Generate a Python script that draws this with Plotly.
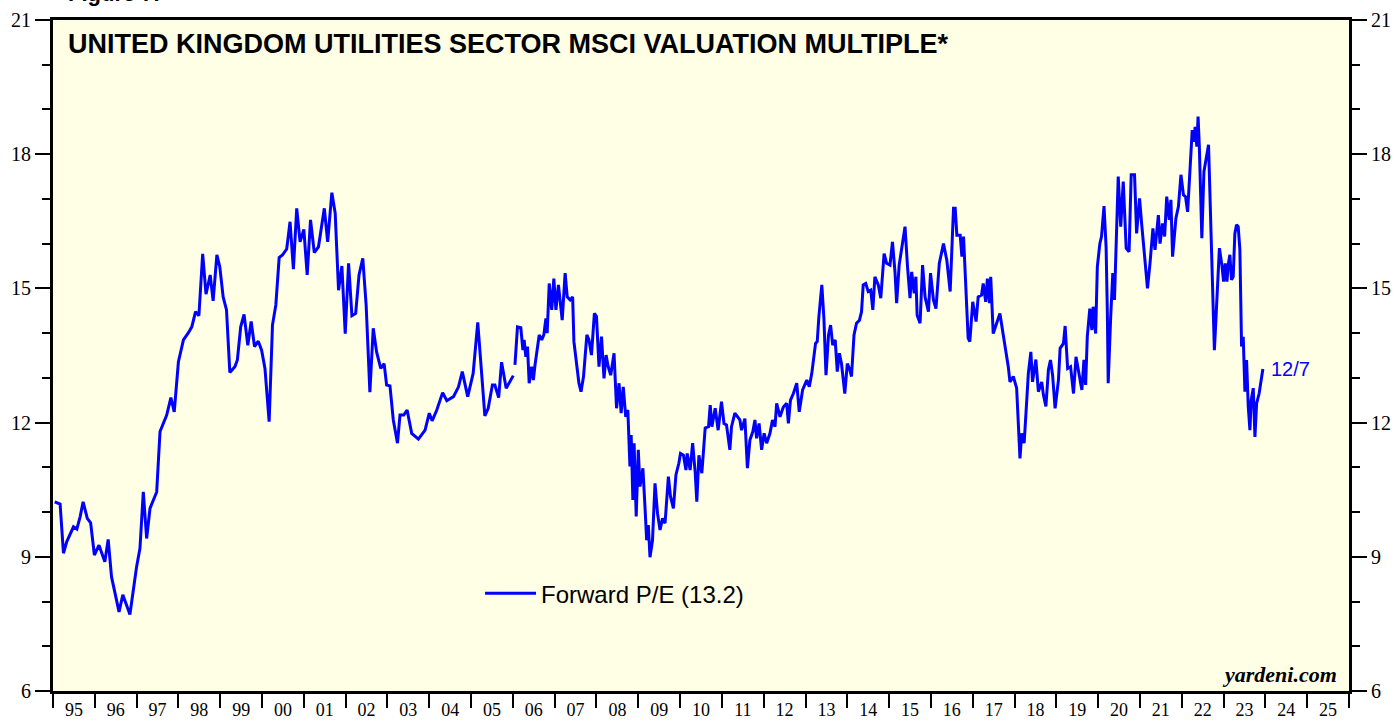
import plotly.graph_objects as go

# ---- data (decimal years, forward P/E) ----
# monthly part 1995-2005
monthly_years = [
    1995.04, 1995.17, 1995.25, 1995.33, 1995.49, 1995.57, 1995.65, 1995.72, 1995.82, 1995.90,
    1995.99, 1996.10, 1996.24, 1996.32, 1996.40, 1996.58, 1996.67, 1996.84, 1997.00, 1997.08,
    1997.16, 1997.24, 1997.32, 1997.48, 1997.56, 1997.72, 1997.82, 1997.90, 1998.00, 1998.12,
    1998.24, 1998.32, 1998.41, 1998.49, 1998.58, 1998.66, 1998.76, 1998.83, 1998.92, 1998.99,
    1999.07, 1999.15, 1999.23, 1999.35, 1999.41, 1999.49, 1999.57, 1999.66, 1999.74, 1999.82,
    1999.91, 1999.99, 2000.07, 2000.17, 2000.25, 2000.33, 2000.41, 2000.49, 2000.59, 2000.67,
    2000.75, 2000.83, 2000.91, 2001.00, 2001.08, 2001.16, 2001.25, 2001.35, 2001.49, 2001.57,
    2001.67, 2001.75, 2001.83, 2001.91, 2001.99, 2002.07, 2002.15, 2002.24, 2002.32, 2002.41,
    2002.49, 2002.58, 2002.66, 2002.74, 2002.84, 2002.92, 2002.98, 2003.06, 2003.14, 2003.24,
    2003.30, 2003.39, 2003.47, 2003.58, 2003.74, 2003.90, 2004.00, 2004.07, 2004.18, 2004.32,
    2004.42, 2004.58, 2004.70, 2004.79, 2004.92, 2005.05, 2005.16, 2005.33, 2005.41, 2005.51,
    2005.57, 2005.66, 2005.73, 2005.84, 2006.01,
]
monthly_pe = [
    10.23, 10.18, 9.08, 9.34, 9.67, 9.62, 9.90, 10.23, 9.86, 9.76,
    9.04, 9.26, 8.89, 9.39, 8.55, 7.77, 8.15, 7.71, 8.78, 9.19,
    10.45, 9.41, 10.08, 10.45, 11.80, 12.17, 12.56, 12.24, 13.36, 13.85,
    14.01, 14.14, 14.48, 14.39, 15.77, 14.87, 15.30, 14.72, 15.75, 15.48,
    14.81, 14.52, 13.12, 13.25, 13.40, 14.14, 14.42, 13.73, 14.26, 13.70,
    13.82, 13.62, 13.21, 12.02, 14.18, 14.63, 15.69, 15.75, 15.88, 16.49,
    15.43, 16.79, 16.04, 16.32, 15.30, 16.53, 15.80, 15.93, 16.79, 16.04,
    17.14, 16.68, 14.96, 15.50, 13.99, 15.56, 14.39, 14.44, 15.30, 15.67,
    14.63, 12.68, 14.11, 13.58, 13.21, 13.32, 12.84, 12.82, 12.06, 11.54,
    12.17, 12.17, 12.28, 11.76, 11.63, 11.83, 12.21, 12.04, 12.28, 12.67,
    12.49, 12.58, 12.80, 13.14, 12.58, 13.10, 14.24, 12.15, 12.32, 12.84,
    12.84, 12.56, 13.35, 12.77, 13.05,
]

# weekly part 2006-2023
weekly_years = [
    2006.05, 2006.11, 2006.19, 2006.24, 2006.27, 2006.31, 2006.35, 2006.39, 2006.45, 2006.49,
    2006.53, 2006.58, 2006.63, 2006.69, 2006.74, 2006.79, 2006.82, 2006.87, 2006.93, 2006.98,
    2007.03, 2007.09, 2007.13, 2007.18, 2007.25, 2007.30, 2007.37, 2007.43, 2007.46, 2007.53,
    2007.58, 2007.63, 2007.69, 2007.77, 2007.82, 2007.88, 2007.95, 2008.00, 2008.06, 2008.12,
    2008.18, 2008.23, 2008.28, 2008.34, 2008.42, 2008.48, 2008.54, 2008.59, 2008.64, 2008.70,
    2008.75, 2008.80, 2008.83, 2008.87, 2008.90, 2008.95, 2009.00, 2009.04, 2009.11, 2009.16,
    2009.20, 2009.24, 2009.28, 2009.34, 2009.40, 2009.46, 2009.52, 2009.58, 2009.64, 2009.72,
    2009.77, 2009.84, 2009.90, 2009.97, 2010.01, 2010.08, 2010.14, 2010.17, 2010.24, 2010.30,
    2010.36, 2010.40, 2010.45, 2010.52, 2010.60, 2010.68, 2010.72, 2010.76, 2010.84, 2010.91,
    2010.99, 2011.05, 2011.11, 2011.19, 2011.23, 2011.31, 2011.37, 2011.43, 2011.47, 2011.55,
    2011.61, 2011.67, 2011.74, 2011.79, 2011.83, 2011.89, 2011.95, 2012.01, 2012.07, 2012.15,
    2012.21, 2012.27, 2012.31, 2012.39, 2012.47, 2012.55, 2012.59, 2012.64, 2012.71, 2012.79,
    2012.85, 2012.93, 2013.03, 2013.09, 2013.15, 2013.19, 2013.24, 2013.28, 2013.32, 2013.39,
    2013.44, 2013.49, 2013.55, 2013.60, 2013.65, 2013.71, 2013.76, 2013.81, 2013.86, 2013.94,
    2014.00, 2014.06, 2014.10, 2014.16, 2014.22, 2014.29, 2014.34, 2014.38, 2014.44, 2014.50,
    2014.56, 2014.61, 2014.66, 2014.74, 2014.80, 2014.88, 2014.94, 2015.02, 2015.08, 2015.14,
    2015.18, 2015.24, 2015.32, 2015.38, 2015.44, 2015.50, 2015.54, 2015.60, 2015.64, 2015.67,
    2015.74, 2015.80, 2015.86, 2015.94, 2015.99, 2016.06, 2016.12, 2016.20, 2016.30, 2016.38,
    2016.46, 2016.54, 2016.58, 2016.62, 2016.70, 2016.74, 2016.78, 2016.82, 2016.89, 2016.93,
    2017.00, 2017.08, 2017.13, 2017.21, 2017.25, 2017.31, 2017.35, 2017.40, 2017.43, 2017.49,
    2017.57, 2017.65, 2017.73, 2017.81, 2017.85, 2017.89, 2017.97, 2018.05, 2018.09, 2018.13,
    2018.17, 2018.23, 2018.29, 2018.33, 2018.39, 2018.43, 2018.51, 2018.57, 2018.65, 2018.69,
    2018.75, 2018.81, 2018.86, 2018.91, 2018.97, 2019.05, 2019.09, 2019.17, 2019.21, 2019.27,
    2019.34, 2019.41, 2019.47, 2019.53, 2019.61, 2019.66, 2019.70, 2019.74, 2019.80, 2019.85,
    2019.88, 2019.94, 2019.98, 2020.04, 2020.08, 2020.14, 2020.19, 2020.22, 2020.24, 2020.30,
    2020.35, 2020.39, 2020.43, 2020.48, 2020.54, 2020.60, 2020.67, 2020.74, 2020.79, 2020.87,
    2020.92, 2020.99, 2021.04, 2021.11, 2021.18, 2021.24, 2021.31, 2021.36, 2021.44, 2021.48,
    2021.54, 2021.59, 2021.64, 2021.70, 2021.74, 2021.78, 2021.86, 2021.92, 2021.98, 2022.04,
    2022.09, 2022.14, 2022.20, 2022.25, 2022.29, 2022.32, 2022.36, 2022.39, 2022.42, 2022.48,
    2022.53, 2022.60, 2022.64, 2022.68, 2022.72, 2022.76, 2022.78, 2022.82, 2022.85, 2022.90,
    2022.96, 2023.00, 2023.04, 2023.08, 2023.11, 2023.15, 2023.19, 2023.23, 2023.27, 2023.31,
    2023.35, 2023.39, 2023.43, 2023.47, 2023.51, 2023.55, 2023.59, 2023.63, 2023.66, 2023.71,
    2023.75, 2023.79, 2023.85, 2023.89, 2023.94,
]
weekly_pe = [
    13.29, 14.14, 14.12, 13.62, 13.85, 13.47, 13.70, 12.88, 13.25, 12.95,
    13.29, 13.58, 13.96, 13.85, 13.96, 14.33, 14.00, 15.11, 14.52, 15.22,
    14.52, 15.08, 14.74, 14.29, 15.34, 14.81, 14.74, 14.81, 13.81, 13.32,
    12.88, 12.69, 13.03, 13.96, 13.85, 13.51, 14.44, 14.37, 13.25, 13.92,
    12.99, 13.51, 13.25, 13.06, 13.55, 12.32, 12.88, 12.21, 12.80, 12.13,
    12.28, 11.02, 11.72, 10.27, 11.54, 9.90, 11.39, 10.57, 10.98, 10.12,
    9.37, 9.71, 8.99, 9.37, 10.64, 9.97, 9.60, 9.86, 9.75, 10.79,
    10.35, 10.08, 10.83, 11.09, 11.31, 11.27, 10.94, 11.31, 10.94, 11.54,
    10.90, 10.23, 11.27, 10.87, 11.88, 11.91, 12.39, 11.91, 12.32, 11.83,
    12.47, 11.98, 11.95, 11.39, 11.91, 12.21, 12.13, 12.06, 11.83, 12.09,
    10.98, 11.61, 11.80, 12.06, 11.65, 11.98, 11.39, 11.76, 11.54, 11.76,
    12.06, 11.91, 12.43, 12.13, 12.35, 12.43, 11.98, 12.50, 12.65, 12.88,
    12.24, 12.73, 12.95, 12.80, 13.10, 13.40, 13.77, 13.81, 14.37, 15.08,
    14.33, 13.06, 13.96, 14.18, 13.73, 13.85, 13.14, 13.55, 13.32, 12.65,
    13.32, 13.18, 13.03, 13.96, 14.22, 14.29, 14.48, 15.08, 15.11, 14.93,
    14.96, 14.52, 15.26, 15.08, 14.78, 15.78, 15.56, 15.52, 16.04, 15.37,
    14.67, 15.52, 16.08, 16.38, 15.48, 14.78, 15.37, 14.89, 15.26, 14.40,
    14.22, 15.52, 14.81, 14.48, 15.34, 14.74, 14.55, 15.56, 16.00, 15.63,
    14.93, 16.79, 16.79, 16.19, 16.19, 15.71, 16.16, 15.34, 13.89, 13.81,
    14.70, 14.26, 14.81, 14.85, 15.11, 14.70, 15.22, 14.67, 15.26, 13.99,
    14.22, 14.44, 13.96, 13.51, 13.25, 12.91, 13.03, 12.77, 11.76, 11.20,
    11.76, 11.54, 12.47, 13.10, 13.58, 12.91, 13.41, 12.69, 12.91, 12.62,
    12.36, 13.18, 13.40, 13.06, 12.32, 12.95, 13.66, 13.77, 14.16, 13.21,
    13.25, 12.65, 13.47, 13.18, 12.73, 13.40, 12.84, 13.92, 14.55, 14.07,
    14.59, 13.99, 15.48, 16.00, 16.16, 16.84, 15.93, 14.44, 12.88, 14.37,
    15.34, 14.74, 16.23, 17.50, 16.38, 17.39, 15.90, 15.82, 17.54, 17.54,
    16.23, 17.01, 16.45, 15.78, 15.00, 15.56, 16.34, 15.86, 16.64, 16.00,
    16.45, 16.16, 17.05, 16.53, 16.98, 15.71, 16.57, 16.83, 17.54, 17.09,
    17.05, 16.71, 17.58, 18.54, 18.28, 18.61, 18.17, 18.84, 18.17, 16.12,
    17.61, 17.94, 18.21, 16.90, 15.71, 14.52, 13.62, 14.37, 15.04, 15.90,
    15.52, 15.15, 15.56, 15.15, 15.52, 15.75, 15.19, 15.26, 16.23, 16.42,
    16.38, 15.86, 13.70, 13.92, 12.69, 13.40, 12.36, 11.83, 12.50, 12.77,
    11.68, 12.43, 12.65, 12.91, 13.20,
]

year_labels = ["95", "96", "97", "98", "99", "00", "01", "02", "03", "04", "05", "06", "07",
               "08", "09", "10", "11", "12", "13", "14", "15", "16", "17", "18", "19", "20",
               "21", "22", "23", "24", "25"]
first_year = 1995
last_date_label = "12/7"
series_name = "Forward P/E (13.2)"
title_text = "UNITED KINGDOM UTILITIES SECTOR MSCI VALUATION MULTIPLE*"

# one trace, with a break between the monthly and weekly records
x_all = monthly_years + [None] + weekly_years
y_all = monthly_pe + [None] + weekly_pe

BLUE = "#0000FF"
fig = go.Figure()
fig.add_trace(go.Scatter(
    x=x_all, y=y_all, mode="lines", name=series_name,
    line=dict(color=BLUE, width=3), connectgaps=False,
))

label_pos = [first_year + i + 0.5 for i in range(len(year_labels))]

tickfont = dict(family="Liberation Serif, Times New Roman, serif", size=20, color="black")
xtickfont = dict(family="Liberation Serif, Times New Roman, serif", size=18, color="black")

fig.update_layout(
    width=1395, height=721,
    margin=dict(l=53, r=46, t=20, b=30),
    paper_bgcolor="white",
    plot_bgcolor="#FFFFE6",
    showlegend=True,
    legend=dict(
        x=0.3295, y=0.145, xanchor="left", yanchor="middle",
        bgcolor="rgba(0,0,0,0)",
        font=dict(family="Liberation Sans, Arial, sans-serif", size=24, color="black"),
        itemwidth=51,
    ),
    xaxis=dict(
        range=[first_year, first_year + 31],
        tickmode="array", tickvals=label_pos, ticktext=year_labels,
        ticks="", ticklen=0,
        tickfont=xtickfont, automargin=False,
        showgrid=False, zeroline=False,
        showline=True, linecolor="black", linewidth=3, mirror=True,
        minor=dict(ticks="outside", ticklen=14, tickwidth=2, tickcolor="black",
                   tick0=first_year, dtick=1, showgrid=False),
    ),
    yaxis=dict(
        range=[6, 21], tick0=0, dtick=3,
        ticks="outside", ticklen=15, tickwidth=2, tickcolor="black",
        tickfont=tickfont, automargin=False,
        showgrid=False, zeroline=False,
        showline=True, linecolor="black", linewidth=3, mirror=True,
        minor=dict(ticks="outside", ticklen=8, tickwidth=2, tickcolor="black",
                   dtick=1, showgrid=False),
    ),
    yaxis2=dict(
        range=[6, 21], tick0=0, dtick=3, overlaying="y", side="right",
        ticks="outside", ticklen=15, tickwidth=2, tickcolor="black",
        tickfont=tickfont, automargin=False,
        showgrid=False, zeroline=False,
        showline=True, linecolor="black", linewidth=3,
        minor=dict(ticks="outside", ticklen=8, tickwidth=2, tickcolor="black",
                   dtick=1, showgrid=False),
    ),
)

fig.add_trace(go.Scatter(x=[None], y=[None], yaxis="y2", showlegend=False,
                         hoverinfo="skip", mode="lines"))

fig.add_annotation(
    xref="paper", yref="paper", x=0.01, y=0.99, xanchor="left", yanchor="top",
    text="<b>" + title_text + "</b>", showarrow=False,
    font=dict(family="Liberation Sans, Arial, sans-serif", size=27, color="black"),
)
fig.add_annotation(
    xref="paper", yref="paper", x=0.01, y=1.0, yshift=12, xanchor="left", yanchor="bottom",
    text="<b>Figure 7.</b>", showarrow=False,
    font=dict(family="Liberation Sans, Arial, sans-serif", size=22, color="black"),
)
fig.add_annotation(
    x=weekly_years[-1], y=weekly_pe[-1], xref="x", yref="y",
    text=last_date_label, showarrow=False, xanchor="left", xshift=6,
    font=dict(family="Liberation Sans, Arial, sans-serif", size=20, color=BLUE),
)
fig.add_annotation(
    xref="paper", yref="paper", x=1, y=0, xanchor="right", yanchor="bottom",
    xshift=-10, yshift=2,
    text="<b><i>yardeni.com</i></b>", showarrow=False,
    font=dict(family="Liberation Serif, Times New Roman, serif", size=22, color="black"),
)

fig.write_html("out.html", config={"displayModeBar": False},
               post_script="document.body.style.margin='0';")
